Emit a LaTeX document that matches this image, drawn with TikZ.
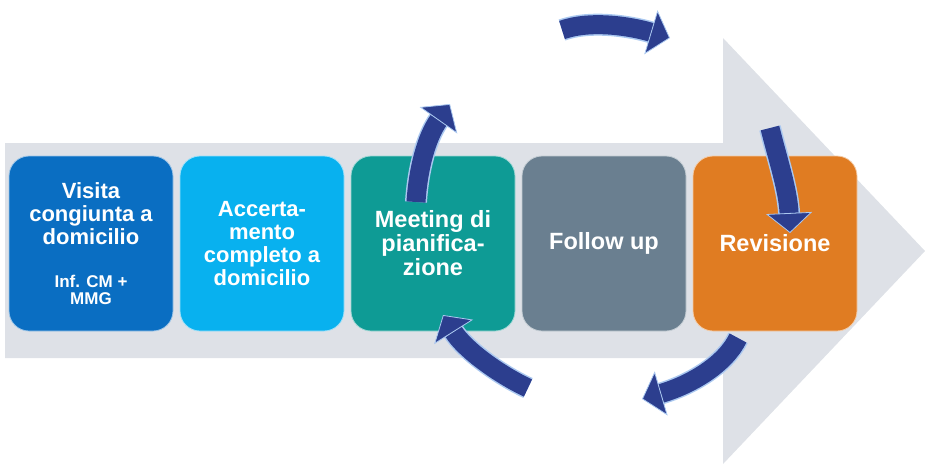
\documentclass[tikz,border=0pt]{standalone}
\usepackage{fontspec}
\setmainfont{Liberation Sans}
\usetikzlibrary{arrows.meta}
\definecolor{bgarrow}{RGB}{222,225,231}
\definecolor{c1}{RGB}{10,110,194}
\definecolor{c2}{RGB}{8,177,239}
\definecolor{c3}{RGB}{14,155,149}
\definecolor{c4}{RGB}{106,127,144}
\definecolor{c5}{RGB}{224,124,34}
\definecolor{navy}{RGB}{44,62,142}
\definecolor{edgeb}{RGB}{170,200,240}
\newcommand{\smalltxt}{\fontsize{17}{18}\selectfont}
\tikzset{
  stepbox/.style={rounded corners=20pt, minimum width=164pt, minimum height=175pt,
    inner sep=0pt, text=white, align=center, draw=white!60!#1, line width=0.8pt, fill=#1},
  fsmall/.style={font=\bfseries\fontsize{22}{23}\selectfont},
  fbig/.style={font=\bfseries\fontsize{23.5}{24}\selectfont},
  cyc/.style={line width=19pt, draw=navy,
    -{Triangle[width=46pt,length=20pt,fill=navy,color=edgeb,line width=0.8pt]},
    preaction={draw=edgeb, line width=22pt, -, shorten >=19pt}}
}
\begin{document}
\begin{tikzpicture}[x=1pt,y=-1pt]
\useasboundingbox (0,0) rectangle (925,464);
% background arrow
\fill[bgarrow] (5,143) -- (723,143) -- (723,38) -- (925,251) -- (723,464) -- (723,358) -- (5,358) -- cycle;
% boxes
\node[stepbox=c1, fsmall] (b1) at (91,243.5) {Visita\\congiunta a\\domicilio\\[20pt]{\smalltxt Inf. CM +}\\[-6pt]{\smalltxt MMG}};
\node[stepbox=c2, fsmall] (b2) at (262,243.5) {Accerta-\\mento\\completo a\\domicilio};
\node[stepbox=c3, fbig] (b3) at (433,243.5) {Meeting di\\pianifica-\\zione};
\node[stepbox=c4, fbig] (b4) at (604,243.5) {Follow up};
\node[stepbox=c5, fbig] (b5) at (775,243.5) {Revisione};
% cycle arrows
\coordinate (a1s) at (416,202); \coordinate (a1e) at (450,104);
\coordinate (a2s) at (562,30);  \coordinate (a2e) at (670,38);
\coordinate (a3s) at (770,128); \coordinate (a3e) at (790,233);
\coordinate (a4s) at (738,338); \coordinate (a4e) at (642,399);
\coordinate (a5s) at (528,388); \coordinate (a5e) at (443,315);
\draw[cyc] (a1s) .. controls (418,170) and (426,138) .. (a1e);
\draw[cyc] (a2s) .. controls (590,20) and (630,26) .. (a2e);
\draw[cyc] (a3s) .. controls (778,160) and (788,190) .. (a3e);
\draw[cyc] (a4s) .. controls (725,365) and (690,385) .. (a4e);
\draw[cyc] (a5s) .. controls (500,375) and (465,350) .. (a5e);
\end{tikzpicture}
\end{document}
